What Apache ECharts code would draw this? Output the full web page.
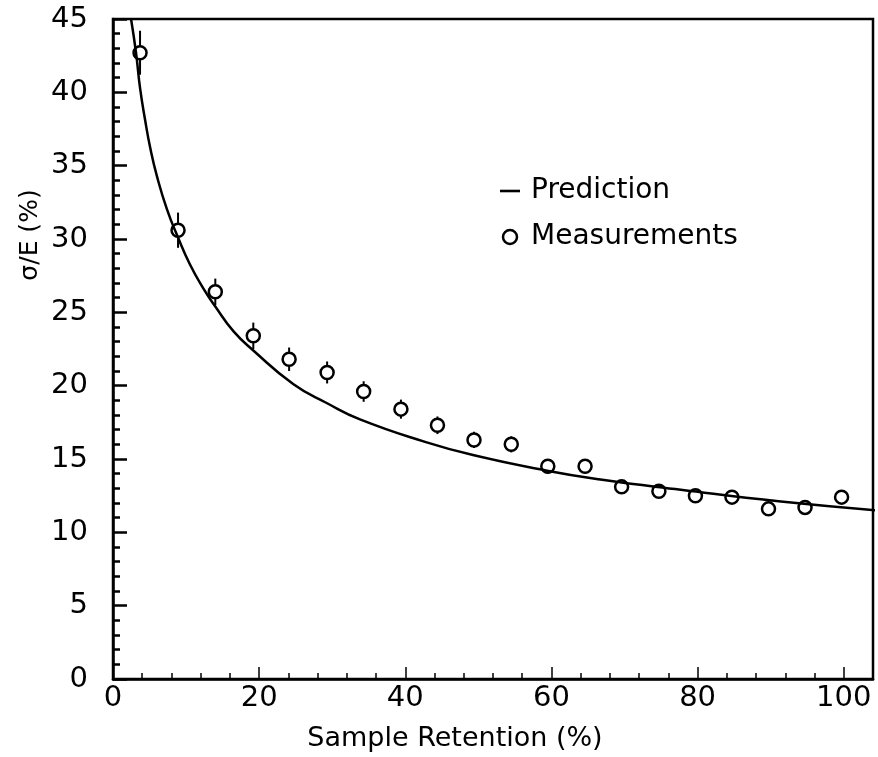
<!DOCTYPE html>
<html>
<head>
<meta charset="utf-8">
<script src="https://cdn.jsdelivr.net/npm/echarts@6/dist/echarts.min.js"></script>
<style>
  html, body { margin: 0; padding: 0; background: #fff; }
  #chart { width: 878px; height: 757px; }
</style>
</head>
<body>
<div id="chart"></div>
<script>
// measured points (x = sample retention %, y = sigma/E %, err = half error bar)
const measX = [3.7, 8.9, 14.0, 19.2, 24.1, 29.3, 34.3, 39.4, 44.4, 49.4, 54.5, 59.5, 64.6, 69.6, 74.7, 79.7, 84.7, 89.7, 94.7, 99.7];
const measY = [42.7, 30.6, 26.4, 23.4, 21.8, 20.9, 19.6, 18.4, 17.3, 16.3, 16.0, 14.5, 14.5, 13.1, 12.8, 12.5, 12.4, 11.6, 11.7, 12.4];
const measErr = [1.5, 1.2, 0.9, 0.9, 0.8, 0.75, 0.7, 0.65, 0.6, 0.55, 0.55, 0.5, 0.5, 0.4, 0.4, 0.35, 0.35, 0.3, 0.3, 0.3];

// prediction curve
const predX = [2.47, 3.15, 3.7, 4.4, 5.1, 6.0, 7.4, 8.9, 10.5, 12.4, 14.0, 16.5, 19.2, 24.7, 29.3, 33.8, 42.5, 49.4, 59.4, 66.7, 77.7, 91.4, 104.6];
const predY = [45, 42.7, 40.3, 38.1, 36.2, 34.3, 32.0, 30.1, 28.3, 26.6, 25.4, 23.7, 22.4, 20.1, 18.8, 17.7, 16.2, 15.25, 14.2, 13.6, 12.9, 12.1, 11.5];

const xTicks = [0, 20, 40, 60, 80, 100];
const yTicks = [0, 5, 10, 15, 20, 25, 30, 35, 40, 45];

const font = 'DejaVu Sans';

function initChart() {
    const chart = echarts.init(document.getElementById('chart'));

    const measData = measX.map((x, i) => [x, measY[i], measErr[i]]);
    const predData = predX.map((x, i) => [x, predY[i]]);

    const option = {
        backgroundColor: '#fff',
        animation: false,
        grid: {
            left: 113, right: 5, top: 19, bottom: 76,
            show: true, borderColor: '#000', borderWidth: 2.5, backgroundColor: 'transparent'
        },
        legend: {
            orient: 'vertical',
            left: 495, top: 172,
            itemWidth: 20, itemHeight: 14, itemGap: 18,
            textStyle: { fontFamily: font, fontSize: 28, color: '#000', padding: [0, 0, 0, 6] },
            data: [
                { name: 'Prediction', icon: 'path://M0,0h20v2.6h-20z' },
                { name: 'Measurements', icon: 'circle', itemStyle: { color: '#fff', borderColor: '#000', borderWidth: 2.5 } }
            ]
        },
        xAxis: {
            type: 'value', min: 0, max: 104, interval: 20,
            name: 'Sample Retention (%)', nameLocation: 'middle', nameGap: 46,
            nameTextStyle: { fontFamily: font, fontSize: 27, color: '#000', padding: [0, 76, 0, 0] },
            axisLine: { show: true, onZero: false, lineStyle: { color: '#000', width: 2.5 } },
            axisTick: { inside: true, length: 12, lineStyle: { color: '#000', width: 1.5 } },
            minorTick: { show: true, splitNumber: 5, length: 6, lineStyle: { color: '#000', width: 1.5 } },
            splitLine: { show: false },
            axisLabel: {
                fontFamily: font, fontSize: 29, color: '#000', margin: 5,
                formatter: v => xTicks.includes(v) ? String(v) : ''
            }
        },
        yAxis: {
            type: 'value', min: 0, max: 45, interval: 5,
            axisLine: { show: true, onZero: false, lineStyle: { color: '#000', width: 2.5 } },
            axisTick: { inside: true, length: 14, lineStyle: { color: '#000', width: 2.5 } },
            minorTick: { show: true, splitNumber: 5, length: 7, lineStyle: { color: '#000', width: 2.5 } },
            splitLine: { show: false },
            axisLabel: {
                fontFamily: font, fontSize: 29, color: '#000', margin: 25,
                formatter: v => yTicks.includes(v) ? String(v) : ''
            }
        },
        graphic: [{
            type: 'text', x: 30, y: 235, rotation: Math.PI / 2,
            style: { text: 'σ/E (%)', fontFamily: font, fontSize: 25, fill: '#000', align: 'center', verticalAlign: 'middle' }
        }],
        series: [
            {
                // error bars
                type: 'custom',
                name: 'err',
                data: measData,
                z: 2,
                renderItem: (params, api) => {
                    const x = api.value(0), y = api.value(1), e = api.value(2);
                    const p1 = api.coord([x, y + e]);
                    const p2 = api.coord([x, y - e]);
                    return {
                        type: 'line',
                        shape: { x1: p1[0], y1: p1[1], x2: p2[0], y2: p2[1] },
                        style: { stroke: '#000', lineWidth: 2 }
                    };
                }
            },
            {
                name: 'Measurements',
                type: 'scatter',
                data: measData,
                symbol: 'circle',
                symbolSize: 13,
                z: 3,
                itemStyle: { color: '#fff', borderColor: '#000', borderWidth: 2.5, opacity: 1 }
            },
            {
                name: 'Prediction',
                type: 'line',
                data: predData,
                smooth: 0.5,
                showSymbol: false,
                symbol: 'none',
                z: 4,
                lineStyle: { color: '#000', width: 2.5 },
                itemStyle: { color: '#000' }
            }
        ]
    };

    chart.setOption(option);
    window.addEventListener('resize', () => chart.resize());
}

window.onload = initChart;
</script>
</body>
</html>
